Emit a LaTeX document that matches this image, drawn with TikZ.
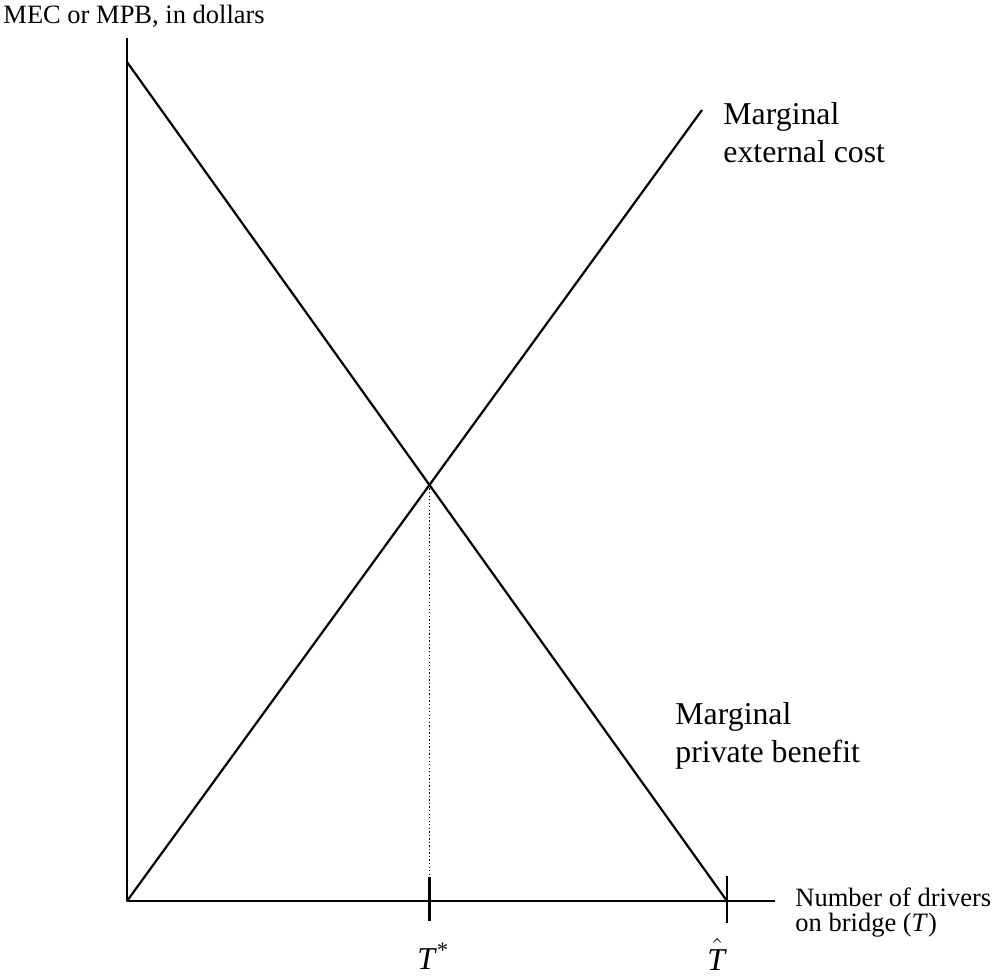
\documentclass[tikz,border=0pt]{standalone}
\usepackage{fontspec}
\setmainfont{Liberation Serif}
\begin{document}
\begin{tikzpicture}[x=0.4528pt,y=-0.4528pt, line join=round,
    axis/.style={line width=1.2pt},
    curve/.style={line width=1pt},
    lab/.style={font=\fontsize{12}{11}\selectfont, anchor=base west, inner sep=0pt, align=left},
    biglab/.style={font=\fontsize{14.4}{16.8}\selectfont, anchor=base west, inner sep=0pt, align=left}]
    \useasboundingbox (0,0) rectangle (993,975);
    \coordinate (O) at (127,901);
    \coordinate (ytop) at (127,38);
    \coordinate (xend) at (775,901);
    \coordinate (mecend) at (702,110);
    \coordinate (mpbtop) at (127,62);
    \coordinate (That) at (727,901);
    \coordinate (eq) at (intersection of O--mecend and mpbtop--That);
    \coordinate (Tstar) at (eq |- O);
    \draw[axis] (ytop)--(O)--(xend);
    \draw[curve] (O)--(mecend);
    \draw[curve] (mpbtop)--(That);
    \draw[densely dotted, line width=0.6pt] (eq)--(Tstar);
    \draw[axis] (Tstar)++(0,-24)--++(0,44)
        (That)++(0,-25)--++(0,47);
    % base of a two-line node = baseline of its last line
    \node[lab] (ylab) at (3,23) {MEC or MPB, in dollars};
    \node[biglab] (meclab) at (723,162) {Marginal\\external cost};
    \node[biglab] (mpblab) at (675,762) {Marginal\\private benefit};
    \node[lab] (xlab) at (795,931) {Number of drivers\\on bridge (\textit{T})};
    \node[biglab] (tstarlab) at (417,969) {\textit{T}\textsuperscript{*}};
    \node[biglab] (thatlab) at (707,970) {\Large$\hat{\mbox{\fontsize{14.4}{16}\selectfont\textit{T}\rule{0pt}{10.4pt}}}$};
\end{tikzpicture}
\end{document}
